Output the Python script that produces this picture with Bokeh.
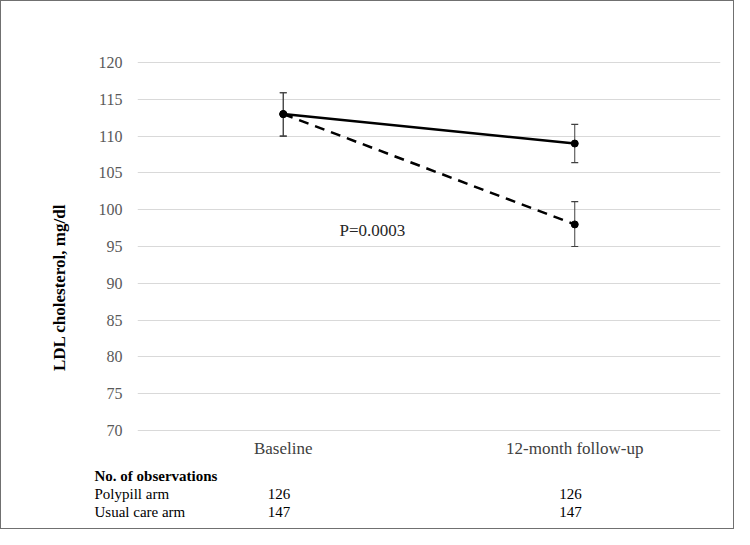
import math
from bokeh.plotting import figure
from bokeh.models import Range1d, FixedTicker, Label, ColumnDataSource
from bokeh.layouts import column, row
from bokeh.embed import file_html
from bokeh.resources import INLINE
from bokeh.core.properties import value

# ---- data ----
categories = ["Baseline", "12-month follow-up"]
solid_mean = [113, 109]
solid_lower = [110.0, 106.4]
solid_upper = [115.9, 111.6]
dashed_mean = [113, 98]
dashed_lower = [110.0, 95.0]
dashed_upper = [115.9, 101.1]
y_ticks = [70, 75, 80, 85, 90, 95, 100, 105, 110, 115, 120]
y_title = "LDL cholesterol, mg/dl"
p_value_text = "P=0.0003"
table_title = "No. of observations"
table_rows = ["Polypill arm", "Usual care arm"]
polypill_counts = [126, 126]
usual_counts = [147, 147]

# ---- layout constants (pixels) ----
FONT = "Liberation Serif"
x_pos = [i + 0.5 for i in range(len(categories))]
TOTAL_W, TOTAL_H = 732, 527
TITLE_W = 75
TOP_H = 462
CHART_W = TOTAL_W - TITLE_W
FRAME_LEFT, FRAME_RIGHT = 61, 13        # borders of chart figure
FRAME_TOP, FRAME_BOTTOM = 60, 32
Y_PAD = 0.15

# ---------------- title strip ----------------
pt = figure(width=TITLE_W, height=TOP_H, output_backend="svg", toolbar_location=None,
            x_range=Range1d(0, 1), y_range=Range1d(0, 1),
            x_axis_type=None, y_axis_type=None, min_border=0)
pt.outline_line_color = None
pt.grid.visible = False
pt.text(x=[58 / TITLE_W], y=[1 - 282 / TOP_H], text=[y_title], angle=math.pi / 2,
        text_align="center", text_baseline="middle", text_font=value(FONT),
        text_font_style="bold", text_font_size="17px", text_color="black")

# ---------------- main chart ----------------
p = figure(width=CHART_W, height=TOP_H, output_backend="svg", toolbar_location=None,
           x_range=Range1d(0, len(categories)),
           y_range=Range1d(y_ticks[0] - Y_PAD, y_ticks[-1] + Y_PAD),
           min_border_left=FRAME_LEFT, min_border_right=FRAME_RIGHT,
           min_border_top=FRAME_TOP, min_border_bottom=FRAME_BOTTOM)
p.outline_line_color = None

p.xgrid.visible = False
p.ygrid.ticker = FixedTicker(ticks=y_ticks)
p.ygrid.grid_line_color = "#d9d9d9"
p.ygrid.grid_line_width = 1

ya = p.yaxis[0]
ya.ticker = FixedTicker(ticks=y_ticks)
ya.axis_line_color = None
ya.major_tick_line_color = None
ya.minor_tick_line_color = None
ya.major_tick_out = 0
ya.major_tick_in = 0
ya.major_label_standoff = 15
ya.major_label_text_font = FONT
ya.major_label_text_font_size = "16px"
ya.major_label_text_color = "#595959"

xa = p.xaxis[0]
xa.ticker = FixedTicker(ticks=x_pos)
xa.major_label_overrides = {x: c for x, c in zip(x_pos, categories)}
xa.axis_line_color = None
xa.major_tick_line_color = None
xa.minor_tick_line_color = None
xa.major_tick_out = 0
xa.major_tick_in = 0
xa.major_label_standoff = 7
xa.major_label_text_font = FONT
xa.major_label_text_font_size = "17px"
xa.major_label_text_color = "#404040"

ERR_COLOR = "#404040"
for lo, hi in [(solid_lower, solid_upper), (dashed_lower, dashed_upper)]:
    src = ColumnDataSource(dict(x=x_pos, lo=lo, hi=hi))
    p.segment(x0="x", y0="lo", x1="x", y1="hi", source=src,
              line_color=ERR_COLOR, line_width=1)
    p.scatter(x="x", y="lo", source=src, marker="dash", size=7,
              line_color=ERR_COLOR, line_width=1.2)
    p.scatter(x="x", y="hi", source=src, marker="dash", size=7,
              line_color=ERR_COLOR, line_width=1.2)

p.line(x_pos, dashed_mean, line_color="black", line_width=2.5, line_dash="10 7")
p.line(x_pos, solid_mean, line_color="black", line_width=2.5)
p.scatter(x_pos, dashed_mean, marker="circle", size=7, fill_color="black", line_color="black")
p.scatter(x_pos, solid_mean, marker="circle", size=7, fill_color="black", line_color="black")

p.add_layout(Label(x=0.806, y=97.17, text=p_value_text, text_align="center",
                   text_baseline="middle", text_font=FONT, text_font_size="17px",
                   text_color="#262626"))

# ---------------- observation table ----------------
TABLE_H = TOTAL_H - TOP_H
frame_w = CHART_W - FRAME_LEFT - FRAME_RIGHT
px_per_unit = frame_w / len(categories)
x0_px = TITLE_W + FRAME_LEFT
tx_range = Range1d(-x0_px / px_per_unit, (TOTAL_W - x0_px) / px_per_unit)
ROW_FIRST, ROW_STEP = 12.7, 17.65
ty_range = Range1d((TABLE_H - ROW_FIRST) / ROW_STEP, -ROW_FIRST / ROW_STEP)

pb = figure(width=TOTAL_W, height=TABLE_H, output_backend="svg", toolbar_location=None,
            x_range=tx_range, y_range=ty_range,
            x_axis_type=None, y_axis_type=None, min_border=0)
pb.outline_line_color = None
pb.grid.visible = False

LEFT_X = -43 / px_per_unit
pb.text(x=[LEFT_X], y=[0], text=[table_title], text_align="left", text_baseline="middle",
        text_font=value(FONT), text_font_style="bold", text_font_size="15px",
        text_color="black")
pb.text(x=[LEFT_X] * len(table_rows), y=[1, 2], text=table_rows, text_align="left",
        text_baseline="middle", text_font=value(FONT), text_font_size="15px",
        text_color="black")
cnt_x, cnt_y, cnt_t = [], [], []
for r, counts in enumerate([polypill_counts, usual_counts], start=1):
    for xx, c in zip(x_pos, counts):
        cnt_x.append(xx - 0.015)
        cnt_y.append(r)
        cnt_t.append(str(c))
pb.text(x=cnt_x, y=cnt_y, text=cnt_t, text_align="center", text_baseline="middle",
        text_font=value(FONT), text_font_size="15px", text_color="black")

layout = column(row(pt, p, spacing=0), pb, spacing=0)
layout.styles = {"border": "1px solid #707070", "background-color": "white"}

open("out.html", "w").write(file_html(layout, INLINE))
